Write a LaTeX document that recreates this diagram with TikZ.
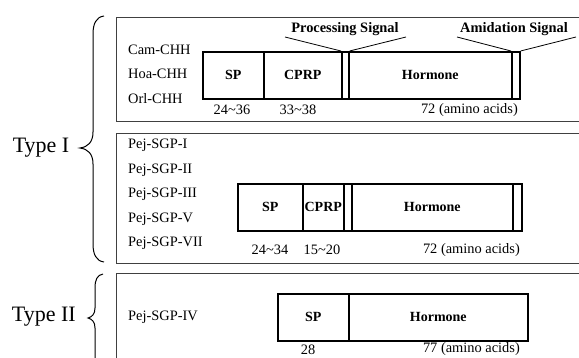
\documentclass[tikz,border=0pt]{standalone}
\usepackage{fontspec}
\setmainfont{Liberation Serif}
\begin{document}
\begin{tikzpicture}[x=1pt,y=-1pt,
  panel/.style={draw=black!75,line width=0.8pt},
  seg/.style={draw=black,line width=1.6pt,inner sep=0pt,anchor=north west,minimum height=47pt,font=\fontsize{14}{16}\selectfont\bfseries},
  lab/.style={anchor=west,inner sep=0pt,font=\fontsize{14.4}{17}\selectfont},
  num/.style={inner sep=0pt,font=\fontsize{14.4}{17}\selectfont},
  sig/.style={inner sep=0pt,font=\fontsize{14.4}{17}\selectfont\bfseries},
  typ/.style={inner sep=0pt,font=\fontsize{22}{26}\selectfont},
  pline/.style={draw=black,line width=0.8pt},
  brc/.style={draw=black,line width=1pt}]
\useasboundingbox (0,0) rectangle (579,358);
\fill[white] (0,0) rectangle (579,358);

% panels
\draw[panel] (116,17) rectangle (600,121);
\draw[panel] (116,133) rectangle (600,263);
\draw[panel] (116,273) rectangle (600,380);

% Type labels and braces
\node[typ] (t1) at (41,148) {Type I};
\node[typ,anchor=east] (t2) at (76,317) {Type II};
\draw[brc] (104,16) .. controls (96,17) and (93,24) .. (93,34) -- (93,132)
  .. controls (93,142) and (88,147) .. (80,148)
  .. controls (88,149) and (93,154) .. (93,164) -- (93,244)
  .. controls (93,254) and (96,261) .. (104,262);
\draw[brc] (103,274) .. controls (97,275) and (95,280) .. (95,288) -- (95,308)
  .. controls (95,314) and (92,317) .. (88,318)
  .. controls (92,319) and (95,322) .. (95,328) -- (95,370);

% Panel 1
\node[lab] (cam) at (128,50) {Cam-CHH};
\node[lab] (hoa) at (128,74) {Hoa-CHH};
\node[lab] (orl) at (128,99) {Orl-CHH};
\node[seg,minimum width=61pt] (sp1) at (202,51) {SP};
\node[seg,minimum width=78pt] (cp1) at (263,51) {CPRP};
\node[seg,minimum width=7pt] (ps1) at (341,51) {};
\node[seg,minimum width=163pt] (ho1) at (348,51) {Hormone};
\node[seg,minimum width=8pt] (am1) at (511,51) {};
\node[num] (n11) at (232,110) {24\textasciitilde36};
\node[num] (n12) at (298,110) {33\textasciitilde38};
\node[num,anchor=east] (n13) at (518,110) {72 (amino acids)};
\node[sig] (pst) at (345,29) {Processing Signal};
\node[sig] (amt) at (514,29) {Amidation Signal};
\coordinate (psL) at (285,37);
\coordinate (psR) at (406,37);
\coordinate (amL) at (457,37);
\coordinate (amR) at (576,37);
\draw[pline] (psL) -- (ps1.north west);
\draw[pline] (ps1.north east) -- (psR);
\draw[pline] (amL) -- (am1.north west);
\draw[pline] (am1.north east) -- (amR);

% Panel 2
\node[lab] (s1) at (128,145) {Pej-SGP-I};
\node[lab] (s2) at (128,170) {Pej-SGP-II};
\node[lab] (s3) at (128,194) {Pej-SGP-III};
\node[lab] (s5) at (128,219) {Pej-SGP-V};
\node[lab] (s7) at (128,243) {Pej-SGP-VII};
\node[seg,minimum width=65pt] (sp2) at (237,183) {SP};
\node[seg,minimum width=41pt] (cp2) at (302,183) {CPRP};
\node[seg,minimum width=8pt] (ps2) at (343,183) {};
\node[seg,minimum width=161pt] (ho2) at (351,183) {Hormone};
\node[seg,minimum width=9pt] (am2) at (512,183) {};
\node[num] (n21) at (270,250) {24\textasciitilde34};
\node[num] (n22) at (322,250) {15\textasciitilde20};
\node[num,anchor=east] (n23) at (520,250) {72 (amino acids)};

% Panel 3
\node[lab] (s4) at (128,317) {Pej-SGP-IV};
\node[seg,minimum width=71pt] (sp3) at (277,293) {SP};
\node[seg,minimum width=179pt] (ho3) at (348,293) {Hormone};
\node[num] (n31) at (308,349.5) {28};
\node[num,anchor=east] (n32) at (520,349.5) {77 (amino acids)};
\end{tikzpicture}
\end{document}
